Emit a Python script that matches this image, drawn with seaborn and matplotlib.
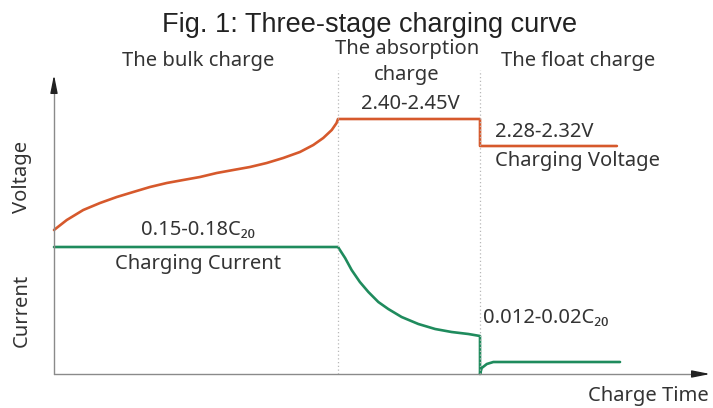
import matplotlib
matplotlib.use("Agg")
import matplotlib.pyplot as plt
import seaborn as sns
import pandas as pd

# ---- data (schematic units: time, level above the time axis) ----
voltage_time = [0.0, 0.45, 1.03, 1.62, 2.21, 2.79, 3.38, 3.97, 4.55, 5.14, 5.73, 6.31,
                6.9, 7.49, 8.07, 8.66, 9.13, 9.48, 9.78, 9.95, 10.0,
                15.0, 15.0, 19.82]
voltage_level = [144, 154, 164, 171, 177, 182, 187, 191, 194, 197, 201, 204,
                 207, 211, 216, 222, 229, 236, 244, 251, 255,
                 255, 228, 228]
current_time = [0.0, 10.0, 10.25, 10.48, 10.77, 11.07, 11.42, 11.77, 12.24, 12.83, 13.42,
                14.0, 14.59, 15.0,
                15.0, 15.06, 15.24, 15.47, 15.7, 19.93]
current_level = [127, 127, 116, 104, 92, 82, 72, 65, 57, 50, 45,
                 42, 40, 38,
                 0, 6, 10, 12, 12, 12]
stage_bounds = [10.0, 15.0]
title = "Fig. 1: Three-stage charging curve"
stage_labels = ["The bulk charge", "The absorption\ncharge", "The float charge"]
voltage_labels = ["2.40-2.45V", "2.28-2.32V", "Charging Voltage"]
current_labels = ["0.15-0.18C₂₀", "Charging Current", "0.012-0.02C₂₀"]
axis_labels = ["Voltage", "Current", "Charge Time"]

sns.set_theme(style="white")
plt.rcParams["font.family"] = ["Noto Sans", "DejaVu Sans"]

W, H = 713, 408
fig = plt.figure(figsize=(W / 100, H / 100), dpi=100)
ax = fig.add_axes([0, 0, 1, 1])
px_per_unit = 28.4
x0, y0 = 54, 374
ax.set_xlim(-x0 / px_per_unit, (W - x0) / px_per_unit)
ax.set_ylim(-(H - y0), y0)
ax.axis("off")

orange = "#d6592c"
green = "#1f8b5d"
txt = "#333333"

vdf = pd.DataFrame({"t": voltage_time, "v": voltage_level})
cdf = pd.DataFrame({"t": current_time, "v": current_level})
sns.lineplot(data=vdf, x="t", y="v", sort=False, estimator=None, color=orange, lw=1.9, ax=ax)
sns.lineplot(data=cdf, x="t", y="v", sort=False, estimator=None, color=green, lw=1.9, ax=ax)

# stage separators
ax.vlines(stage_bounds, 0, y0 - 70, colors="#b8b8b8", linestyles=(0, (1, 2)), lw=0.9)

# axes arrows
ax.plot([0, 0], [0, y0 - 88], color="#8a8a8a", lw=1.0)
ax.annotate("", xy=(0, y0 - 72), xytext=(0, y0 - 92),
            arrowprops=dict(arrowstyle="-|>,head_length=0.9,head_width=0.18", color="#222222", lw=1))
ax.plot([0, (700 - x0) / px_per_unit], [0, 0], color="#8a8a8a", lw=1.0)
ax.annotate("", xy=((713 - x0) / px_per_unit, 0), xytext=((695 - x0) / px_per_unit, 0),
            arrowprops=dict(arrowstyle="-|>,head_length=0.9,head_width=0.18", color="#222222", lw=1))

def ftext(x, y, s, **kw):
    kw.setdefault("color", txt)
    kw.setdefault("fontsize", 14.5)
    kw.setdefault("va", "center")
    fig.text(x / W, 1 - y / H, s, **kw)

ftext(370, 25, title, ha="center", fontsize=19.5, family="Liberation Sans", color="#222222")
ftext(198, 61, stage_labels[0], ha="center")
ftext(407, 62, stage_labels[1], ha="center", linespacing=1.35)
ftext(578, 61, stage_labels[2], ha="center")
ftext(410, 104, voltage_labels[0], ha="center")
ftext(495, 132, voltage_labels[1], ha="left")
ftext(495, 161, voltage_labels[2], ha="left")
ftext(198, 230, current_labels[0], ha="center")
ftext(198, 264, current_labels[1], ha="center")
ftext(483, 318, current_labels[2], ha="left")
ftext(22, 177, axis_labels[0], ha="center", rotation=90)
ftext(22, 310, axis_labels[1], ha="center", rotation=90)
ftext(709, 396, axis_labels[2], ha="right")

fig.savefig("out.png", dpi=100)
